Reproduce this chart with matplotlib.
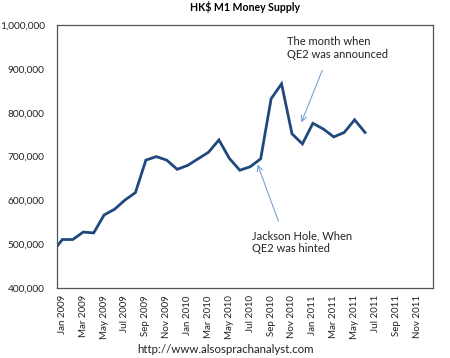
import matplotlib
matplotlib.use('Agg')
import matplotlib.pyplot as plt
from matplotlib.ticker import FuncFormatter

plt.rcParams['font.family'] = ['Lato', 'DejaVu Sans']

# monthly M1, HK$ millions (Dec 2008 sits just left of the axis)
months = ['Dec 2008',
          'Jan 2009', 'Feb 2009', 'Mar 2009', 'Apr 2009', 'May 2009', 'Jun 2009',
          'Jul 2009', 'Aug 2009', 'Sep 2009', 'Oct 2009', 'Nov 2009', 'Dec 2009',
          'Jan 2010', 'Feb 2010', 'Mar 2010', 'Apr 2010', 'May 2010', 'Jun 2010',
          'Jul 2010', 'Aug 2010', 'Sep 2010', 'Oct 2010', 'Nov 2010', 'Dec 2010',
          'Jan 2011', 'Feb 2011', 'Mar 2011', 'Apr 2011', 'May 2011', 'Jun 2011']
m1 = [481000,
      511000, 511000, 528000, 526000, 567000, 580000,
      601000, 618000, 692000, 700000, 692000, 671000,
      680000, 695000, 710000, 738000, 696000, 669000,
      677000, 695000, 832000, 866000, 752000, 729000,
      776000, 763000, 745000, 755000, 784000, 755000]

tick_labels = ['Jan 2009', 'Mar 2009', 'May 2009', 'Jul 2009', 'Sep 2009', 'Nov 2009',
               'Jan 2010', 'Mar 2010', 'May 2010', 'Jul 2010', 'Sep 2010', 'Nov 2010',
               'Jan 2011', 'Mar 2011', 'May 2011', 'Jul 2011', 'Sep 2011', 'Nov 2011']

x = [i - 0.5 for i in range(len(m1))]

fig = plt.figure(figsize=(4.5, 3.58), dpi=100)
ax = fig.add_axes([0.127, 0.195, 0.835, 0.735])

ax.plot(x, m1, color='#1f497d', lw=2.0, solid_joinstyle='miter', clip_on=True)

ax.set_xlim(0, 36)
ax.set_ylim(400000, 1000000)
ax.set_yticks(range(400000, 1000001, 100000))
ax.yaxis.set_major_formatter(FuncFormatter(lambda v, p: '{:,.0f}'.format(v)))
ax.set_xticks([i * 2 + 0.5 for i in range(len(tick_labels))])
ax.set_xticklabels(tick_labels, rotation=90)
ax.tick_params(axis='x', length=0, labelsize=7.0, colors='#222222', pad=5)
ax.tick_params(axis='y', length=0, labelsize=7.3, colors='#222222', pad=9)

for s in ax.spines.values():
    s.set_color('#555555')
    s.set_linewidth(0.9)

ax.set_title('HK$ M1 Money Supply', fontsize=7.6, fontweight='bold', pad=10)

arrow = dict(arrowstyle='->', color='#7ba0d4', lw=0.8, shrinkA=0, shrinkB=0)
ax.annotate('The month when\nQE2 was announced', xy=(23.4, 778000), xytext=(22.0, 948000),
            fontsize=8, color='#222222', ha='left', va='center', linespacing=1.2)
ax.annotate('', xy=(23.4, 778000), xytext=(25.4, 897000), arrowprops=arrow)
ax.annotate('Jackson Hole, When\nQE2 was hinted', xy=(19.2, 682000), xytext=(18.7, 505000),
            fontsize=8, color='#222222', ha='left', va='center', linespacing=1.2)
ax.annotate('', xy=(19.2, 682000), xytext=(21.2, 553000), arrowprops=arrow)

fig.text(0.5, 0.025, 'http://www.alsosprachanalyst.com', ha='center', va='center',
         fontsize=8.3, color='#222222')

fig.savefig('out.png', dpi=100)
